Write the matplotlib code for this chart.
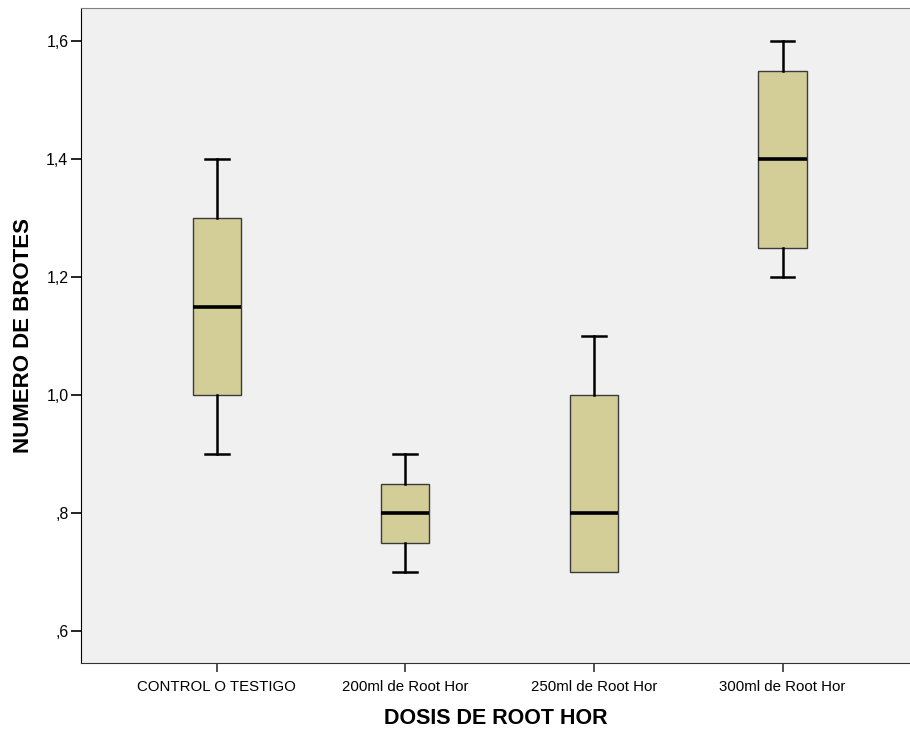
import matplotlib.pyplot as plt
import numpy as np

# Box summaries
categories = ['CONTROL O TESTIGO', '200ml de Root Hor', '250ml de Root Hor', '300ml de Root Hor']
whisker_low = [0.90, 0.70, 0.70, 1.20]
q1 = [1.00, 0.75, 0.70, 1.25]
median = [1.15, 0.80, 0.80, 1.40]
q3 = [1.30, 0.85, 1.00, 1.55]
whisker_high = [1.40, 0.90, 1.10, 1.60]

y_ticks = [0.6, 0.8, 1.0, 1.2, 1.4, 1.6]
y_tick_labels = [',6', ',8', '1,0', '1,2', '1,4', '1,6']


def plot_boxes():
    plt.rcParams['font.family'] = ['Liberation Sans', 'DejaVu Sans']

    fig = plt.figure(figsize=(9.1, 7.35), dpi=100)
    ax = fig.add_axes([0.089, 0.098, 0.911, 0.891])
    ax.set_facecolor('#F0F0F0')

    stats = []
    for i in range(len(categories)):
        stats.append(dict(label=categories[i], whislo=whisker_low[i], q1=q1[i],
                          med=median[i], q3=q3[i], whishi=whisker_high[i], fliers=[]))

    parts = ax.bxp(stats, positions=np.arange(len(categories)), widths=0.255,
                   patch_artist=True, showfliers=False,
                   boxprops=dict(facecolor='#D3CE97', edgecolor='#3a3a3a', linewidth=1.0),
                   medianprops=dict(color='black', linewidth=2.6),
                   whiskerprops=dict(color='black', linewidth=1.8),
                   capprops=dict(color='black', linewidth=1.8),
                   capwidths=0.127)

    # no whisker/cap drawn where the whisker ends on the box itself
    for i in range(len(categories)):
        if whisker_low[i] == q1[i]:
            parts['caps'][2 * i].set_visible(False)
        if whisker_high[i] == q3[i]:
            parts['caps'][2 * i + 1].set_visible(False)

    ax.set_xlim(-0.72, 3.676)
    ax.set_ylim(0.546, 1.656)
    ax.set_yticks(y_ticks)
    ax.set_yticklabels(y_tick_labels, fontsize=11.5)
    ax.set_xticks(np.arange(len(categories)))
    ax.set_xticklabels(categories, fontsize=10.8)
    ax.tick_params(axis='y', direction='out', length=7, width=1.2, color='black', pad=2)
    ax.tick_params(axis='x', direction='out', length=6.5, width=1.2, color='#333333', pad=5.5)

    ax.spines['top'].set_color('#808080')
    ax.spines['right'].set_visible(False)
    ax.spines['left'].set_color('black')
    ax.spines['bottom'].set_color('#333333')

    ax.set_ylabel('NUMERO DE BROTES', fontsize=16, fontweight='bold', va='center')
    ax.set_xlabel('DOSIS DE ROOT HOR', fontsize=15.5, fontweight='bold', va='center')
    ax.yaxis.set_label_coords(-0.069, 0.5)
    ax.xaxis.set_label_coords(0.5, -0.085)

    fig.savefig('out.png', dpi=100)


if __name__ == "__main__":
    plot_boxes()
